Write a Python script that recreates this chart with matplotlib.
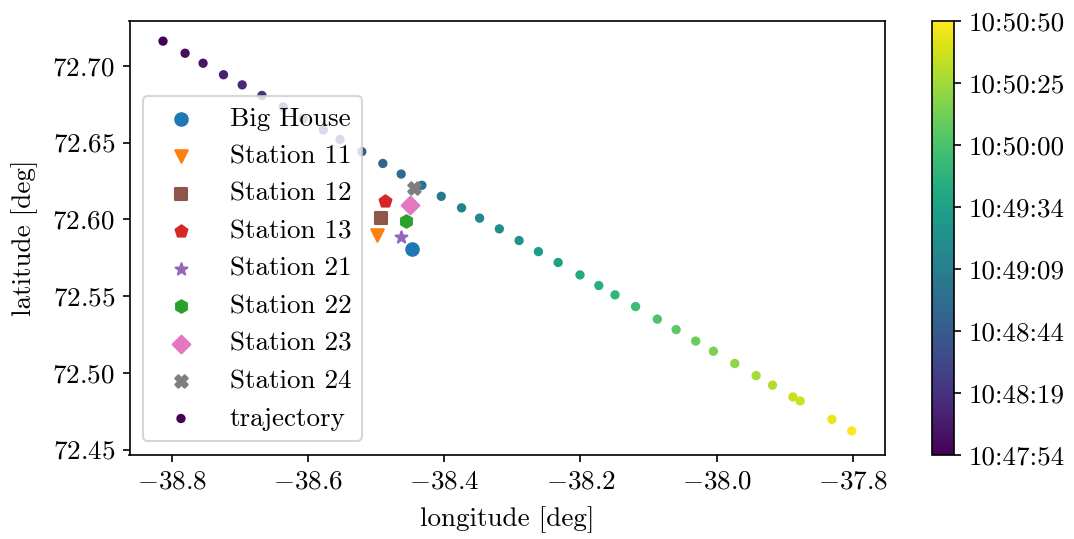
import numpy as np
import matplotlib
matplotlib.use("Agg")
import matplotlib.pyplot as plt

plt.rcParams['font.family'] = 'serif'
plt.rcParams['font.serif'] = ['cmr10']
plt.rcParams['mathtext.fontset'] = 'cm'
plt.rcParams['axes.formatter.use_mathtext'] = True
plt.rcParams['font.size'] = 13

# trajectory data
traj_lon = [-38.8128, -38.7804, -38.7540, -38.7240, -38.6966, -38.6676, -38.6363, -38.6069,
            -38.5775, -38.5529, -38.5210, -38.4901, -38.4632, -38.4328, -38.4044, -38.3746,
            -38.3481, -38.3191, -38.2901, -38.2618, -38.2328, -38.2007, -38.1731, -38.1493,
            -38.1191, -38.0872, -38.0596, -38.0309, -38.0049, -37.9735, -37.9422, -37.9181,
            -37.8882, -37.8775, -37.8309, -37.8019]
traj_lat = [72.7161, 72.7082, 72.7017, 72.6942, 72.6876, 72.6807, 72.6732, 72.6657,
            72.6582, 72.6520, 72.6441, 72.6364, 72.6295, 72.6222, 72.6150, 72.6075,
            72.6008, 72.5938, 72.5862, 72.5790, 72.5719, 72.5638, 72.5569, 72.5508,
            72.5432, 72.5350, 72.5282, 72.5207, 72.5141, 72.5061, 72.4982, 72.4920,
            72.4843, 72.4817, 72.4697, 72.4622]
# seconds after 10:47:54
traj_sec = [0, 6, 10, 16, 20, 25, 31, 36, 41, 45, 51, 56, 61, 66, 71, 76, 81, 86,
            91, 96, 101, 107, 111, 116, 121, 126, 131, 136, 141, 146, 152, 156, 161,
            163, 171, 176]

station_names = ["Big House", "Station 11", "Station 12", "Station 13", "Station 21",
                 "Station 22", "Station 23", "Station 24"]
station_lon = [-38.4466, -38.4990, -38.4926, -38.4868, -38.4628, -38.4559, -38.4500, -38.4441]
station_lat = [72.5805, 72.5899, 72.6006, 72.6118, 72.5882, 72.5989, 72.6096, 72.6203]
station_markers = ["o", "v", "s", "p", "*", "h", "D", "X"]
station_colors = ["C0", "C1", "C5", "C3", "C4", "C2", "C6", "C7"]

cbar_labels = ["10:47:54", "10:48:19", "10:48:44", "10:49:09", "10:49:34",
               "10:50:00", "10:50:25", "10:50:50"]

W, H = 1074, 539
fig = plt.figure(figsize=(W / 150, H / 150), dpi=150)
ax = fig.add_axes([129.5 / W, (H - 455) / H, (885 - 129.5) / W, (455 - 21) / H])
cax = fig.add_axes([932 / W, (H - 455) / H, 22 / W, (455 - 21) / H])

for name, lo, la, m, c in zip(station_names, station_lon, station_lat,
                              station_markers, station_colors):
    ax.scatter([lo], [la], marker=m, color=c, s=36, label=name, zorder=3)

sc = ax.scatter(traj_lon, traj_lat, c=traj_sec, cmap='viridis', s=12,
                label='trajectory', zorder=2)

ax.set_xlim(-38.862, -37.753)
ax.set_ylim(72.4465, 72.7292)
ax.set_xticks([-38.8, -38.6, -38.4, -38.2, -38.0, -37.8])
ax.set_yticks([72.45, 72.50, 72.55, 72.60, 72.65, 72.70])
ax.yaxis.set_major_formatter(matplotlib.ticker.FormatStrFormatter(r'$\mathdefault{%.2f}$'))
ax.set_xlabel('longitude [deg]', labelpad=6)
ax.set_ylabel('latitude [deg]', labelpad=7)
ax.legend(loc='lower left')

cb = fig.colorbar(sc, cax=cax)
cb.set_ticks(np.linspace(min(traj_sec), max(traj_sec), len(cbar_labels)))
cb.set_ticklabels(cbar_labels)

fig.savefig('out.png', dpi=150)
